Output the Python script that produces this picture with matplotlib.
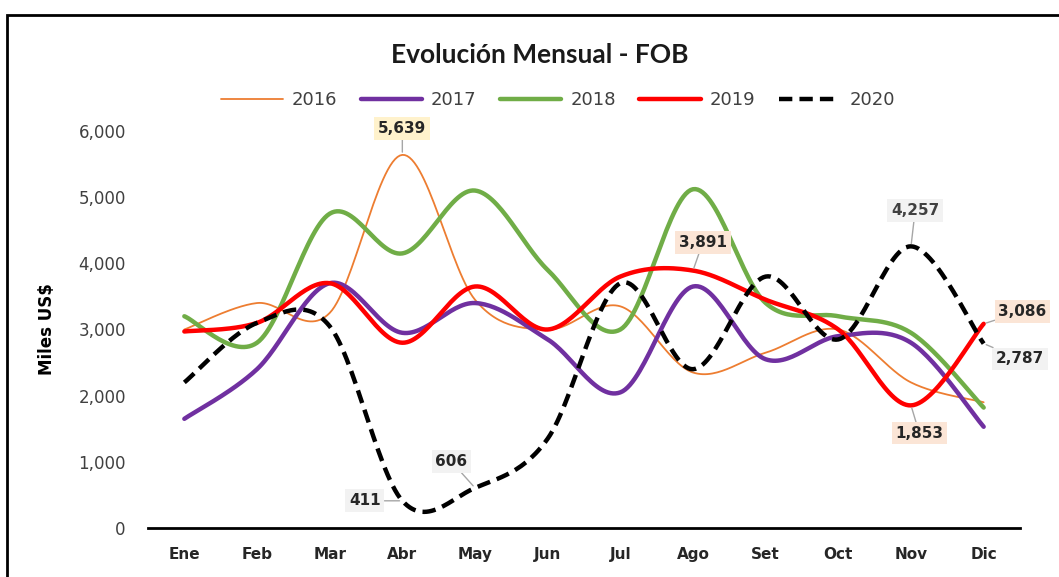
import numpy as np
import matplotlib
matplotlib.use("Agg")
import matplotlib.pyplot as plt
from matplotlib.patches import Rectangle

months = ["Ene", "Feb", "Mar", "Abr", "May", "Jun", "Jul", "Ago", "Set", "Oct", "Nov", "Dic"]
years = ["2016", "2017", "2018", "2019", "2020"]
v2016 = [3000, 3400, 3250, 5639, 3450, 3000, 3350, 2350, 2650, 3000, 2200, 1900]
v2017 = [1650, 2400, 3700, 2950, 3400, 2850, 2050, 3650, 2550, 2900, 2800, 1530]
v2018 = [3200, 2800, 4750, 4150, 5100, 3900, 3000, 5120, 3400, 3200, 2950, 1820]
v2019 = [2970, 3100, 3700, 2800, 3650, 3000, 3800, 3891, 3450, 3000, 1853, 3086]
v2020 = [2200, 3100, 3050, 411, 606, 1350, 3700, 2400, 3800, 2850, 4257, 2787]

series = [v2016, v2017, v2018, v2019, v2020]
colors = ["#ED7D31", "#7030A0", "#70AD47", "#FF0000", "#000000"]
widths = [1.3, 3.2, 3.2, 3.2, 3.2]
styles = ["-", "-", "-", "-", (0, (3.0, 1.6))]


def smooth(y, n=30):
    """Excel-like smoothing (Catmull-Rom Bezier) through the data points."""
    y = np.asarray(y, float)
    x = np.arange(len(y), dtype=float)
    pts = np.column_stack([x, y])
    out = []
    for i in range(len(pts) - 1):
        p0 = pts[i - 1] if i > 0 else pts[i]
        p1 = pts[i]
        p2 = pts[i + 1]
        p3 = pts[i + 2] if i + 2 < len(pts) else pts[i + 1]
        c1 = p1 + (p2 - p0) / 6.0
        c2 = p2 - (p3 - p1) / 6.0
        t = np.linspace(0, 1, n, endpoint=(i == len(pts) - 2))[:, None]
        b = ((1 - t) ** 3) * p1 + 3 * ((1 - t) ** 2) * t * c1 + 3 * (1 - t) * t ** 2 * c2 + t ** 3 * p2
        out.append(b)
    out = np.vstack(out)
    return out[:, 0], out[:, 1]


fig = plt.figure(figsize=(10.59, 5.77), dpi=100)
ax = fig.add_axes([148 / 1059, 1 - 528 / 577, (1020 - 148) / 1059, (528 - 131) / 577])

for vals, c, lw, ls, lab in zip(series, colors, widths, styles, years):
    xs, ys = smooth(vals)
    ax.plot(xs, ys, color=c, lw=lw, ls=ls, label=lab, solid_capstyle="round",
            dash_capstyle="butt", clip_on=False)

ax.set_xlim(-0.5, 11.5)
ax.set_ylim(0, 6000)
ax.set_yticks(range(0, 6001, 1000))
ax.set_yticklabels([f"{v:,}" for v in range(0, 6001, 1000)], fontsize=12, color="#404040")
ax.set_xticks(range(len(months)))
ax.set_xticklabels(months, fontsize=11, fontweight="bold", color="#262626")
ax.tick_params(axis="both", length=0)
ax.tick_params(axis="x", pad=14)
ax.tick_params(axis="y", pad=16)
for s in ["top", "right", "left"]:
    ax.spines[s].set_visible(False)
ax.spines["bottom"].set_linewidth(2)
ax.spines["bottom"].set_color("black")
ax.set_ylabel("Miles US$", fontsize=12, fontweight="bold", labelpad=16)

# data labels
box_yel = dict(boxstyle="square,pad=0.25", fc="#FFF2CC", ec="none")
box_peach = dict(boxstyle="square,pad=0.25", fc="#FBE5D6", ec="none")
box_gray = dict(boxstyle="square,pad=0.25", fc="#F2F2F2", ec="none")
arrow = dict(arrowstyle="-", color="#A6A6A6", lw=1, shrinkA=0, shrinkB=2)
labels = [
    (v2016, 3, (0, 19), box_yel, "#262626"),
    (v2019, 7, (7, 20), box_peach, "#262626"),
    (v2020, 10, (3, 26), box_gray, "#404040"),
    (v2020, 3, (-27, 0), box_gray, "#262626"),
    (v2020, 4, (-17, 19), box_gray, "#262626"),
    (v2019, 10, (6, -20), box_peach, "#262626"),
    (v2019, 11, (28, 9), box_peach, "#262626"),
    (v2020, 11, (26, -11), box_gray, "#262626"),
]
for vals, i, off, box, tc in labels:
    ax.annotate(f"{vals[i]:,}", xy=(i, vals[i]), xytext=off, textcoords="offset points",
                ha="center", va="center", fontsize=11, fontweight="bold", color=tc,
                bbox=box, arrowprops=arrow, annotation_clip=False)

fig.text(540 / 1059, 1 - 55 / 577, "Evolución Mensual - FOB", ha="center", va="center",
         fontsize=19, fontweight="bold", family=["Lato", "DejaVu Sans"], color="#1a1a1a")

leg = ax.legend(loc="center", bbox_to_anchor=(558 / 1059, 1 - 100 / 577),
                bbox_transform=fig.transFigure, ncol=5, frameon=False,
                handlelength=3.4, columnspacing=1.3, handletextpad=0.5,
                prop={"size": 13})
for t in leg.get_texts():
    t.set_color("#404040")

fig.patches.append(Rectangle((7 / 1059, -0.1), 1.2, 1 - 15 / 577 + 0.1, transform=fig.transFigure,
                             fill=False, ec="black", lw=2))

fig.savefig("out.png", dpi=100)
